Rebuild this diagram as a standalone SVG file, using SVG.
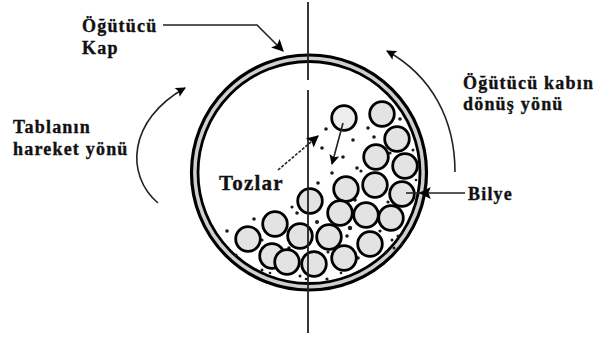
<svg xmlns="http://www.w3.org/2000/svg" width="598" height="338" viewBox="0 0 598 338">
  <style>
    .lbl { font-family: "Liberation Serif", "Times New Roman", serif; font-weight: bold; font-size: 18px; letter-spacing: 1.2px; fill: #111; stroke: #111; stroke-width: 0.35; }
    .ball { fill: #e3e3e3; stroke: #000; stroke-width: 2.8; }
    .dot { fill: #1a1a1a; }
    .lead { fill: none; stroke: #222; stroke-width: 1.6; }
  </style>
  <defs>
    <marker id="headL" viewBox="0 0 10 10" refX="9" refY="5" markerWidth="16" markerHeight="12" markerUnits="userSpaceOnUse" orient="auto">
      <path d="M0,0 L10,5 L0,10 L2,5 z" fill="#000"/>
    </marker>
    <marker id="headS" viewBox="0 0 10 10" refX="9" refY="5" markerWidth="14" markerHeight="10" markerUnits="userSpaceOnUse" orient="auto">
      <path d="M0,0 L10,5 L0,10 L2,5 z" fill="#000"/>
    </marker>
  </defs>

  <rect width="598" height="338" fill="#fff"/>

  <!-- grinding jar: outer wall, grey band, inner wall -->
  <g id="jar">
    <circle cx="309" cy="172.5" r="114.5" fill="none" stroke="#cfcfcf" stroke-width="5"/>
    <circle cx="309" cy="172.5" r="117.5" fill="none" stroke="#000" stroke-width="3.2"/>
    <circle cx="309" cy="172.5" r="111" fill="none" stroke="#000" stroke-width="2.8"/>
  </g>

  <!-- powder packed between balls and wall -->
  <g id="powder" class="dot">
    <circle cx="326" cy="129" r="1.8"/>
    <circle cx="322" cy="148" r="1.8"/>
    <circle cx="343" cy="157" r="1.8"/>
    <circle cx="353" cy="140" r="1.8"/>
    <circle cx="374" cy="137" r="1.8"/>
    <circle cx="368" cy="128" r="1.8"/>
    <circle cx="400" cy="119" r="1.8"/>
    <circle cx="332" cy="173" r="1.8"/>
    <circle cx="357" cy="168" r="1.8"/>
    <circle cx="318" cy="183" r="1.8"/>
    <circle cx="297" cy="213" r="1.8"/>
    <circle cx="292" cy="207" r="1.6"/>
    <circle cx="254" cy="219" r="1.8"/>
    <circle cx="227" cy="231" r="1.8"/>
    <circle cx="317" cy="222" r="2"/>
    <circle cx="350" cy="228" r="2.2"/>
    <circle cx="347" cy="236" r="1.8"/>
    <circle cx="355" cy="200" r="1.8"/>
    <circle cx="388" cy="202" r="1.6"/>
    <circle cx="361" cy="171" r="1.6"/>
    <circle cx="390" cy="153" r="1.6"/>
    <circle cx="262" cy="240" r="1.6"/>
    <circle cx="289" cy="248" r="1.8"/>
    <circle cx="358" cy="258" r="1.8"/>
    <circle cx="328" cy="252" r="1.6"/>
    <circle cx="327" cy="279" r="1.6"/>
    <circle cx="380" cy="231" r="1.6"/>
    <circle cx="236" cy="255" r="1.6"/>
    <!-- fines trapped near the wall -->
    <circle cx="392" cy="240" r="1.5"/>
    <circle cx="398" cy="236" r="1.5"/>
    <circle cx="394" cy="248" r="1.5"/>
    <circle cx="402" cy="244" r="1.3"/>
    <circle cx="386" cy="252" r="1.5"/>
    <circle cx="413" cy="150" r="1.5"/>
    <circle cx="416" cy="180" r="1.3"/>
    <circle cx="300" cy="276" r="1.5"/>
    <circle cx="306" cy="279" r="1.3"/>
    <circle cx="262" cy="270" r="1.5"/>
    <circle cx="270" cy="273" r="1.3"/>
    <circle cx="341" cy="273" r="1.3"/>
  </g>

  <!-- grinding balls -->
  <g id="balls">
    <circle class="ball" cx="272" cy="256" r="12.3"/>
    <circle class="ball" cx="344" cy="118" r="12.3" style="fill:#ededed"/>
    <circle class="ball" cx="382" cy="114" r="12.3"/>
    <circle class="ball" cx="397" cy="139" r="12.3"/>
    <circle class="ball" cx="376" cy="157" r="12.3"/>
    <circle class="ball" cx="405" cy="166" r="12.3"/>
    <circle class="ball" cx="346" cy="189" r="12.3"/>
    <circle class="ball" cx="375" cy="185" r="12.3"/>
    <circle class="ball" cx="402" cy="194" r="12.3"/>
    <circle class="ball" cx="310" cy="201" r="12.3"/>
    <circle class="ball" cx="340" cy="213" r="12.3"/>
    <circle class="ball" cx="366" cy="215" r="12.3"/>
    <circle class="ball" cx="391" cy="218" r="12.3"/>
    <circle class="ball" cx="275" cy="224" r="12.3"/>
    <circle class="ball" cx="248" cy="239" r="12.3"/>
    <circle class="ball" cx="300" cy="236" r="12.3"/>
    <circle class="ball" cx="329" cy="237" r="12.3"/>
    <circle class="ball" cx="370" cy="244" r="12.3"/>
    <circle class="ball" cx="287" cy="262" r="12.3"/>
    <circle class="ball" cx="314" cy="264" r="12.3"/>
    <circle class="ball" cx="344" cy="258" r="12.3"/>
  </g>

  <!-- connectors and axis -->
  <g id="connectors">
    <path d="M308,2 V80 M308,90 V333" fill="none" stroke="#222" stroke-width="1.8"/>
    <path class="lead" d="M163,25 H257 L283,51" marker-end="url(#headL)"/>
    <path class="lead" d="M158,203 C125,175 128,120 185,88" marker-end="url(#headS)"/>
    <path class="lead" d="M455,172 C455,120 432,76 387,51" marker-end="url(#headS)"/>
    <path class="lead" d="M465,193 H420" marker-end="url(#headL)"/>
    <path d="M420,193 H406" stroke="#222" stroke-width="1.6"/>
    <path class="lead" d="M278,170 L318,136" stroke-dasharray="3 1.5" marker-end="url(#headL)"/>
    <path class="lead" d="M343,123 L332,164" marker-end="url(#headS)"/>
  </g>

  <!-- labels -->
  <g id="label-kap">
    <text class="lbl" x="82" y="32">Öğütücü</text>
    <text class="lbl" x="82" y="54">Kap</text>
  </g>
  <g id="label-tabla">
    <text class="lbl" x="13" y="133">Tablanın</text>
    <text class="lbl" x="13" y="155">hareket yönü</text>
  </g>
  <g id="label-donus">
    <text class="lbl" x="463" y="89">Öğütücü kabın</text>
    <text class="lbl" x="463" y="110">dönüş yönü</text>
  </g>
  <g id="label-tozlar">
    <text class="lbl" x="219" y="190" style="font-size:21px">Tozlar</text>
  </g>
  <g id="label-bilye">
    <text class="lbl" x="468" y="200">Bilye</text>
  </g>
</svg>
